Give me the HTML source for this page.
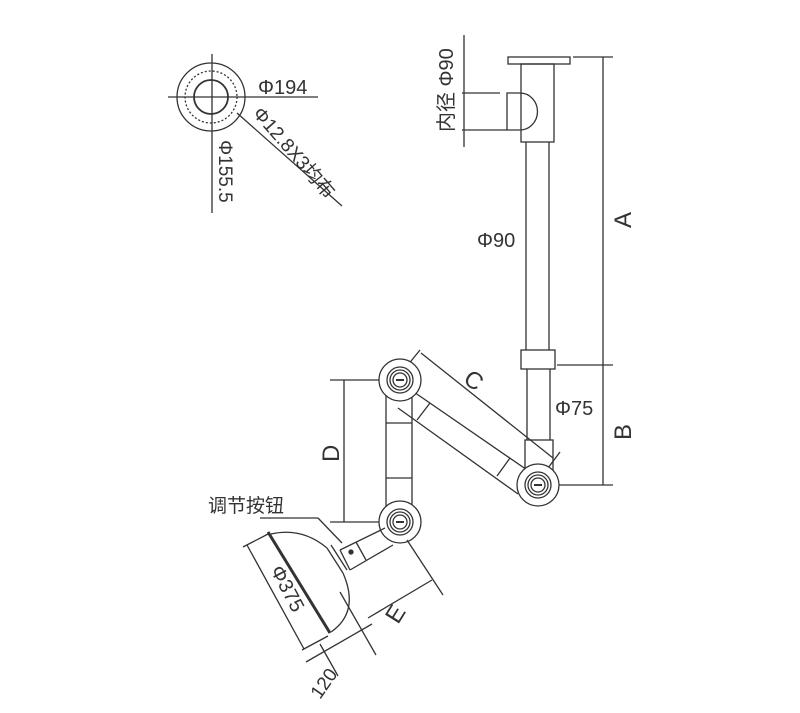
<!DOCTYPE html>
<html><head><style>body{margin:0;background:#fff}svg{display:block}text{font-family:"Liberation Sans","Noto Sans CJK SC",sans-serif;fill:#333}</style></head><body>
<svg width="800" height="713" viewBox="0 0 800 713" fill="none" stroke="#333" stroke-width="1.3">
<!-- flange detail -->
<circle cx="211" cy="97" r="34"/>
<circle cx="211" cy="97" r="17" stroke-width="1.8"/>
<circle cx="211" cy="97" r="26" stroke-dasharray="2 2"/>
<line x1="168" y1="97" x2="318" y2="97"/>
<line x1="212" y1="54" x2="212" y2="213"/>
<line x1="237" y1="113" x2="342" y2="206"/>
<text x="258" y="94" font-size="20" stroke="none">Φ194</text>
<text transform="translate(252,114) rotate(49)" font-size="19" stroke="none">Φ12.8X3均布</text>
<text transform="translate(219,140) rotate(90)" font-size="19" stroke="none">Φ155.5</text>
<!-- column -->
<rect x="508" y="57" width="62" height="7"/>
<rect x="521" y="64" width="33" height="78"/>
<path d="M507 93 H520 A17 18 0 0 1 520 130 H507 Z"/>
<line x1="462" y1="93" x2="500" y2="93"/><line x1="462" y1="130" x2="507" y2="130"/>
<line x1="464" y1="35" x2="464" y2="147"/>
<text transform="translate(453,132) rotate(-90)" font-size="20" stroke="none">内径 Φ90</text>
<line x1="526" y1="142" x2="526" y2="350"/><line x1="549" y1="142" x2="549" y2="350"/>
<rect x="521" y="350" width="34" height="19"/>
<line x1="527" y1="369" x2="527" y2="440"/><line x1="550" y1="369" x2="550" y2="440"/>
<rect x="525" y="440" width="28" height="40"/>
<text x="477" y="247" font-size="20" stroke="none">Φ90</text>
<text x="555" y="415" font-size="20" stroke="none">Φ75</text>
<!-- dims A B -->
<line x1="573" y1="57" x2="613" y2="57"/><line x1="557" y1="365" x2="613" y2="365"/><line x1="557" y1="485" x2="613" y2="485"/>
<line x1="603" y1="57" x2="603" y2="485"/>
<text transform="translate(631,228) rotate(-90)" font-size="24" stroke="none">A</text>
<text transform="translate(631,440) rotate(-90)" font-size="24" stroke="none">B</text>
<!-- arm C -->
<path d="M411 390 L530 472 M398 408 L518 494" />
<line x1="430" y1="403" x2="417" y2="420"/><line x1="510" y1="458" x2="497" y2="476"/>
<line x1="421" y1="353" x2="553" y2="458"/>
<line x1="420" y1="350" x2="407" y2="366"/><line x1="560" y1="452" x2="548" y2="468"/>
<text transform="translate(462,382) rotate(35)" font-size="24" stroke="none">C</text>
<!-- arm D -->
<path d="M386 390 V522 M412 390 V522"/>
<line x1="386" y1="423" x2="412" y2="423"/><line x1="386" y1="478" x2="412" y2="478"/>
<line x1="330" y1="380" x2="400" y2="380"/><line x1="330" y1="522" x2="400" y2="522"/>
<line x1="344" y1="380" x2="344" y2="522"/>
<text transform="translate(339,462) rotate(-90)" font-size="24" stroke="none">D</text>
<!-- joints -->
<g fill="#fff">
<circle cx="400" cy="380" r="21"/><circle cx="400" cy="380" r="13"/><circle cx="400" cy="380" r="10"/><circle cx="400" cy="380" r="7"/>
<circle cx="538" cy="485" r="21"/><circle cx="538" cy="485" r="13"/><circle cx="538" cy="485" r="10"/><circle cx="538" cy="485" r="7"/>
<circle cx="400" cy="522" r="21"/><circle cx="400" cy="522" r="13"/><circle cx="400" cy="522" r="10"/><circle cx="400" cy="522" r="7"/>
</g>
<line x1="396" y1="380" x2="404" y2="380" stroke-width="2"/><line x1="534" y1="485" x2="542" y2="485" stroke-width="2"/><line x1="396" y1="522" x2="404" y2="522" stroke-width="2"/>
<!-- lower arm & lamp -->
<path d="M385 528 L340 550 M393 545 L350 570"/>
<line x1="356" y1="542" x2="366" y2="560"/>
<line x1="340" y1="550" x2="350" y2="570"/>
<path d="M327 548 L343 573 M331 545 L347 570"/>
<path d="M271 534 Q302 527 327 548"/>
<path d="M343 573 Q360 612 331 632"/>
<line x1="268" y1="532" x2="330" y2="633" stroke-width="3"/>
<circle cx="351" cy="552" r="2" fill="#333"/>
<text x="208" y="512" font-size="19" stroke="none">调节按钮</text>
<line x1="260" y1="518" x2="318" y2="518"/><line x1="318" y1="518" x2="342" y2="543"/>
<!-- dims 375, E, 120 -->
<line x1="243" y1="547" x2="270" y2="533"/><line x1="302" y1="650" x2="328" y2="636"/>
<line x1="247" y1="545" x2="304" y2="649"/>
<text transform="translate(270,570) rotate(62)" font-size="20" stroke="none">Φ375</text>
<line x1="340" y1="592" x2="376" y2="655"/><line x1="407" y1="540" x2="443" y2="595"/>
<line x1="368" y1="618" x2="432" y2="580"/>
<text transform="translate(398,625) rotate(-58)" font-size="24" stroke="none">E</text>
<line x1="320" y1="644" x2="338" y2="676"/>
<line x1="306" y1="662" x2="372" y2="624"/>
<text transform="translate(320,700) rotate(-55)" font-size="19" stroke="none">120</text>
</svg>
</body></html>
